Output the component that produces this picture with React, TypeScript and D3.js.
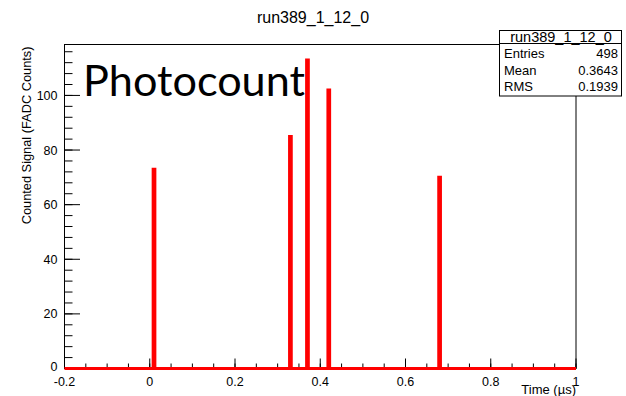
import React from "react";
import * as d3 from "d3";

const title = "run389_1_12_0";
const binCenters = [0.01, 0.33, 0.37, 0.42, 0.68];
const counts = [73, 85, 113, 102, 70];
const xTicks = [-0.2, 0, 0.2, 0.4, 0.6, 0.8, 1];
const xTickLabels = ["-0.2", "0", "0.2", "0.4", "0.6", "0.8", "1"];
const yTicks = [0, 20, 40, 60, 80, 100];
const statsLabels = ["Entries", "Mean", "RMS"];
const statsValues = ["498", "0.3643", "0.1939"];

const W = 626, H = 396;
const L = 64.5, R = 576, T = 44.5, B = 368.5;
const BIN_W = 0.004;

export default function App() {
  const x = d3.scaleLinear().domain([-0.2, 1]).range([L, R]);
  const y = d3.scaleLinear().domain([0, 118.65]).range([B, T]);
  const xMinor = d3.range(-0.2, 1.0001, 0.05);
  const yMinor = d3.range(0, 118, 4);

  // histogram outline path
  let p = `M${x(-0.2)},${y(0)}`;
  binCenters.forEach((c, i) => {
    const lo = x(c - BIN_W / 2), hi = x(c + BIN_W / 2);
    p += `L${lo},${y(0)}L${lo},${y(counts[i])}L${hi},${y(counts[i])}L${hi},${y(0)}`;
  });
  p += `L${x(1)},${y(0)}`;

  const font = "'Liberation Sans', Arial, Helvetica, sans-serif";
  return (
    <svg width={W} height={H} style={{ position: "absolute", left: 0, top: 0, background: "#fff" }}
      fontFamily={font}>
      <rect x={0} y={0} width={W} height={H} fill="#fff" />
      <text x={313} y={23} textAnchor="middle" fontSize={16} fill="#000">{title}</text>

      {/* frame */}
      <rect x={L} y={T} width={R - L} height={B - T} fill="none" stroke="#000" strokeWidth={1} />

      {/* y axis ticks */}
      {yMinor.map((v) => (
        <line key={"ym" + v} x1={L} x2={L + 8} y1={y(v)} y2={y(v)} stroke="#000" strokeWidth={1} />
      ))}
      {yTicks.map((v) => (
        <g key={"y" + v}>
          <line x1={L} x2={L + 15.5} y1={y(v)} y2={y(v)} stroke="#000" strokeWidth={1} />
          <text x={L - 7} y={y(v) - (v === 0 ? 2 : 0)} dy="0.36em" textAnchor="end" fontSize={12.5} fill="#000">{v}</text>
        </g>
      ))}
      {/* x axis ticks */}
      {xMinor.map((v, i) => (
        <line key={"xm" + i} x1={x(v)} x2={x(v)} y1={B} y2={B - 5} stroke="#000" strokeWidth={1} />
      ))}
      {xTicks.map((v, i) => (
        <g key={"x" + i}>
          <line x1={x(v)} x2={x(v)} y1={B} y2={B - 10} stroke="#000" strokeWidth={1} />
          <text x={x(v)} y={B + 17} textAnchor="middle" fontSize={12.5} fill="#000">{xTickLabels[i]}</text>
        </g>
      ))}

      {/* histogram */}
      <path d={p} fill="none" stroke="#ff0000" strokeWidth={3} strokeLinejoin="miter" />

      {/* axis titles */}
      <text x={R} y={B + 25} textAnchor="end" fontSize={13} fill="#000">Time (µs)</text>
      <text transform={`translate(31,${T + 2}) rotate(-90)`} textAnchor="end" fontSize={12.8} fill="#000">
        Counted Signal (FADC Counts)
      </text>

      {/* big label */}
      <text x={83} y={96} fontSize={42} fontFamily="Lato, 'Open Sans', sans-serif" fill="#000"
        textLength={222} lengthAdjust="spacingAndGlyphs">Photocount</text>

      {/* stats box */}
      <rect x={499.5} y={30.5} width={122} height={65.5} fill="#fff" stroke="#000" strokeWidth={1} />
      <line x1={499.5} x2={621.5} y1={43.5} y2={43.5} stroke="#000" strokeWidth={1} />
      <text x={561} y={41.5} textAnchor="middle" fontSize={14.5} fill="#000">{title}</text>
      {statsLabels.map((s, i) => (
        <g key={s}>
          <text x={504} y={58 + i * 16.5} fontSize={13} fill="#000">{s}</text>
          <text x={618} y={58 + i * 16.5} textAnchor="end" fontSize={13} fill="#000">{statsValues[i]}</text>
        </g>
      ))}
    </svg>
  );
}
